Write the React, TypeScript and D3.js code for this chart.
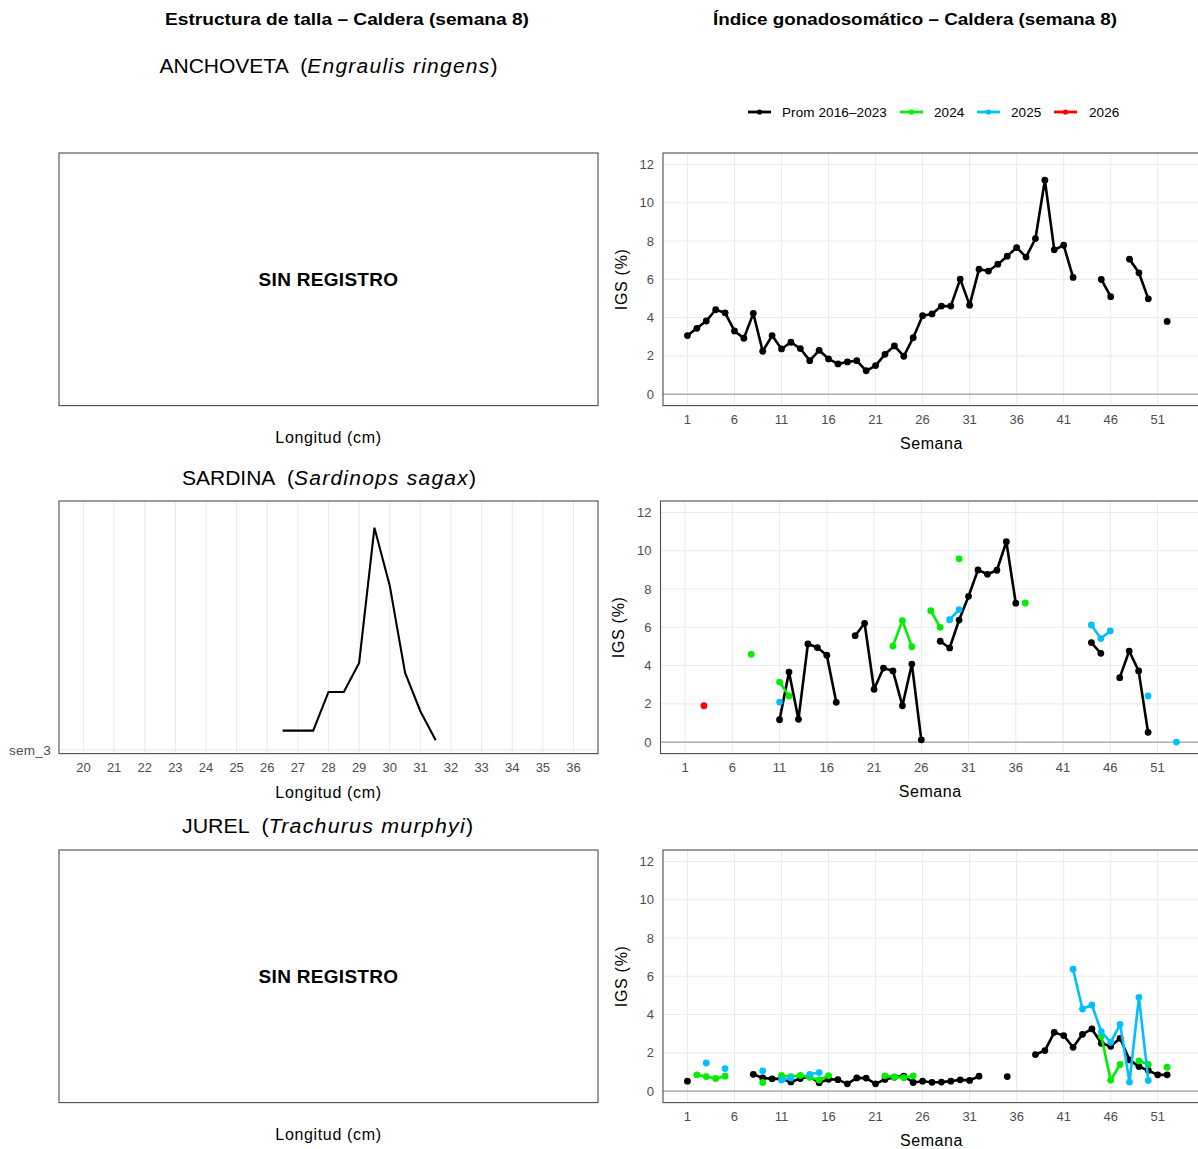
import React from 'react';
import * as d3 from 'd3';

// ---------- tick / category data ----------
const WEEK_TICKS = [1, 6, 11, 16, 21, 26, 31, 36, 41, 46, 51];
const IGS_TICKS = [0, 2, 4, 6, 8, 10, 12];
const LEN_TICKS = [20, 21, 22, 23, 24, 25, 26, 27, 28, 29, 30, 31, 32, 33, 34, 35, 36];
const SERIES_NAMES = ['Prom 2016–2023', '2024', '2025', '2026'];
const SERIES_COLORS = ['#000000', '#00ee00', '#00bfff', '#ff0000'];
const RIDGE_CATEGORY = 'sem_3';

// ---------- Anchoveta IGS ----------
const ancPromWeeks = [1, 2, 3, 4, 5, 6, 7, 8, 9, 10, 11, 12, 13, 14, 15, 16, 17, 18, 19, 20, 21, 22, 23, 24, 25, 26, 27, 28, 29, 30, 31, 32, 33, 34, 35, 36, 37, 38, 39, 40, 41, 42, 45, 46, 48, 49, 50, 52];
const ancPromVals = [3.06, 3.44, 3.82, 4.41, 4.25, 3.30, 2.92, 4.22, 2.24, 3.06, 2.36, 2.71, 2.38, 1.75, 2.29, 1.84, 1.58, 1.68, 1.75, 1.22, 1.49, 2.08, 2.52, 1.98, 2.95, 4.10, 4.19, 4.60, 4.60, 6.01, 4.65, 6.53, 6.43, 6.79, 7.21, 7.66, 7.16, 8.13, 11.18, 7.54, 7.78, 6.10, 5.99, 5.09, 7.05, 6.34, 4.98, 3.80];

// ---------- Sardina IGS ----------
const sarPromWeeks = [11, 12, 13, 14, 15, 16, 17, 19, 20, 21, 22, 23, 24, 25, 26, 28, 29, 30, 31, 32, 33, 34, 35, 36, 44, 45, 47, 48, 49, 50];
const sarPromVals = [1.17, 3.66, 1.19, 5.13, 4.94, 4.54, 2.08, 5.56, 6.21, 2.76, 3.87, 3.72, 1.90, 4.08, 0.12, 5.27, 4.92, 6.38, 7.62, 9.00, 8.77, 8.98, 10.47, 7.26, 5.20, 4.64, 3.37, 4.76, 3.72, 0.51];
const sar2024Weeks = [8, 11, 12, 23, 24, 25, 27, 28, 30, 37];
const sar2024Vals = [4.59, 3.14, 2.41, 5.02, 6.35, 4.99, 6.87, 6.00, 9.58, 7.27];
const sar2025Weeks = [11, 29, 30, 44, 45, 46, 50, 53];
const sar2025Vals = [2.09, 6.40, 6.92, 6.12, 5.41, 5.81, 2.41, 0.0];
const sar2026Weeks = [3];
const sar2026Vals = [1.90];

// ---------- Jurel IGS ----------
const jurPromWeeks = [1, 8, 9, 10, 11, 12, 13, 14, 15, 16, 17, 18, 19, 20, 21, 22, 23, 24, 25, 26, 27, 28, 29, 30, 31, 32, 35, 38, 39, 40, 41, 42, 43, 44, 45, 46, 47, 48, 49, 50, 51, 52];
const jurPromVals = [0.52, 0.88, 0.69, 0.64, 0.64, 0.48, 0.66, 0.76, 0.44, 0.62, 0.60, 0.38, 0.69, 0.68, 0.38, 0.61, 0.73, 0.78, 0.45, 0.52, 0.46, 0.47, 0.52, 0.59, 0.56, 0.78, 0.76, 1.91, 2.12, 3.07, 2.90, 2.29, 2.97, 3.25, 2.50, 2.34, 2.76, 1.63, 1.28, 1.08, 0.85, 0.85];
const jur2024Weeks = [2, 3, 4, 5, 9, 11, 12, 13, 14, 15, 16, 22, 23, 24, 25, 45, 46, 47, 49, 50, 52];
const jur2024Vals = [0.85, 0.76, 0.66, 0.78, 0.45, 0.82, 0.75, 0.82, 0.72, 0.58, 0.81, 0.80, 0.74, 0.70, 0.80, 2.87, 0.57, 1.39, 1.58, 1.39, 1.25];
const jur2025Weeks = [3, 5, 9, 11, 12, 14, 15, 42, 43, 44, 45, 46, 47, 48, 49, 50];
const jur2025Vals = [1.47, 1.18, 1.06, 0.58, 0.68, 0.88, 0.97, 6.37, 4.29, 4.50, 3.11, 2.55, 3.49, 0.47, 4.90, 0.56];

// ---------- Sardina length structure (sem_3) ----------
const sarLengths = [26.5, 27, 27.5, 28, 28.5, 29, 29.5, 30, 30.5, 31, 31.5];
const sarCounts = [2, 2, 2, 6, 6, 9, 23, 17, 8, 4, 1];

const FONT = '"Liberation Sans", Arial, Helvetica, sans-serif';
const TICK_FS = 13;
const TICK_COL = '#4d4d4d';

type Series = { weeks: number[]; vals: number[]; color: string };

function toFull(weeks: number[], vals: number[]): [number, number | null][] {
  const m = new Map<number, number>();
  weeks.forEach((w, i) => m.set(w, vals[i]));
  return d3.range(1, 54).map((w) => [w, m.has(w) ? (m.get(w) as number) : null]);
}

const PANEL_H = 252.6;

function IgsPanel({ top, left, series }: { top: number; left: number; series: Series[] }) {
  const bottom = top + PANEL_H;
  const right = 1201;
  const x = d3.scaleLinear().domain([-1.6, 55.6]).range([left, right]);
  const y = d3.scaleLinear().domain([-0.6, 12.6]).range([bottom, top]);
  const line = d3
    .line<[number, number | null]>()
    .defined((d) => d[1] != null)
    .x((d) => x(d[0]))
    .y((d) => y(d[1] as number));
  return (
    <g>
      {IGS_TICKS.map((t) => (
        <line key={'gy' + t} x1={left} x2={right} y1={y(t)} y2={y(t)} stroke="#ebebeb" strokeWidth={1.1} />
      ))}
      {WEEK_TICKS.map((t) => (
        <line key={'gx' + t} x1={x(t)} x2={x(t)} y1={top} y2={bottom} stroke="#ebebeb" strokeWidth={1.1} />
      ))}
      <line x1={left} x2={right} y1={y(0)} y2={y(0)} stroke="#a3a3a3" strokeWidth={1.3} />
      {series.map((s, i) => {
        const full = toFull(s.weeks, s.vals);
        return (
          <g key={'s' + i}>
            <path d={line(full) || ''} fill="none" stroke={s.color} strokeWidth={2.6} strokeLinejoin="round" />
            {s.weeks.map((w, j) => (
              <circle key={j} cx={x(w)} cy={y(s.vals[j])} r={3.4} fill={s.color} />
            ))}
          </g>
        );
      })}
      <rect x={left} y={top} width={right - left} height={bottom - top} fill="none" stroke="#4d4d4d" strokeWidth={1.1} />
      {IGS_TICKS.map((t) => (
        <text key={'ty' + t} x={left - 9} y={y(t)} dy="0.35em" textAnchor="end" fontSize={TICK_FS} fill={TICK_COL} fontFamily={FONT}>
          {t}
        </text>
      ))}
      {WEEK_TICKS.map((t) => (
        <text key={'tx' + t} x={x(t)} y={bottom + 14} dy="0.35em" textAnchor="middle" fontSize={TICK_FS} fill={TICK_COL} fontFamily={FONT}>
          {t}
        </text>
      ))}
      <text x={(left + 1198) / 2 + 1} y={bottom + 38} dy="0.35em" textAnchor="middle" fontSize={16} letterSpacing={0.6} fill="#000" fontFamily={FONT}>
        Semana
      </text>
      <text
        transform={`translate(${left - 42},${(top + bottom) / 2}) rotate(-90)`}
        dy="0.35em"
        textAnchor="middle"
        fontSize={16}
        letterSpacing={0.7}
        fill="#000"
        fontFamily={FONT}
      >
        IGS (%)
      </text>
    </g>
  );
}

const L_LEFT = 59;
const L_RIGHT = 598;

function EmptyLengthPanel({ top }: { top: number }) {
  const bottom = top + PANEL_H;
  return (
    <g>
      <rect x={L_LEFT} y={top} width={L_RIGHT - L_LEFT} height={bottom - top} fill="none" stroke="#4d4d4d" strokeWidth={1.1} />
      <text x={(L_LEFT + L_RIGHT) / 2} y={(top + bottom) / 2} dy="0.35em" textAnchor="middle" fontSize={19} letterSpacing={0.3} fontWeight="bold" fontFamily={FONT}>
        SIN REGISTRO
      </text>
      <text x={(L_LEFT + L_RIGHT) / 2} y={bottom + 32} dy="0.35em" textAnchor="middle" fontSize={16} letterSpacing={0.65} fontFamily={FONT}>
        Longitud (cm)
      </text>
    </g>
  );
}

function RidgePanel({ top }: { top: number }) {
  const bottom = top + PANEL_H;
  const x = d3.scaleLinear().domain([19.2, 36.8]).range([L_LEFT, L_RIGHT]);
  const cat = d3.scalePoint<string>().domain([RIDGE_CATEGORY]).range([bottom - 3.7, bottom - 3.7]);
  const base = cat(RIDGE_CATEGORY) as number;
  const h = d3.scaleLinear().domain([0, d3.max(sarCounts) as number]).range([base, top + 26.7]);
  const pts: [number, number][] = sarLengths.map((l, i) => [l, sarCounts[i]]);
  const line = d3
    .line<[number, number]>()
    .x((d) => x(d[0]))
    .y((d) => h(d[1]));
  return (
    <g>
      {LEN_TICKS.map((t) => (
        <line key={'g' + t} x1={x(t)} x2={x(t)} y1={top} y2={bottom} stroke="#ebebeb" strokeWidth={1.1} />
      ))}
      <line x1={L_LEFT} x2={L_RIGHT} y1={base} y2={base} stroke="#ebebeb" strokeWidth={1.1} />
      <path d={line(pts) || ''} fill="none" stroke="#000" strokeWidth={2.1} strokeLinejoin="miter" />
      <rect x={L_LEFT} y={top} width={L_RIGHT - L_LEFT} height={bottom - top} fill="none" stroke="#4d4d4d" strokeWidth={1.1} />
      <text x={L_LEFT - 8} y={base} dy="0.35em" textAnchor="end" fontSize={13.5} letterSpacing={0.3} fill={TICK_COL} fontFamily={FONT}>
        {RIDGE_CATEGORY}
      </text>
      {LEN_TICKS.map((t) => (
        <text key={'t' + t} x={x(t)} y={bottom + 14} dy="0.35em" textAnchor="middle" fontSize={TICK_FS} fill={TICK_COL} fontFamily={FONT}>
          {t}
        </text>
      ))}
      <text x={(L_LEFT + L_RIGHT) / 2} y={bottom + 38.5} dy="0.35em" textAnchor="middle" fontSize={16} letterSpacing={0.65} fontFamily={FONT}>
        Longitud (cm)
      </text>
    </g>
  );
}

function SpeciesTitle({ y, cx, width, common, sci }: { y: number; cx: number; width: number; common: string; sci: string }) {
  return (
    <text x={cx - width / 2} y={y} dy="0.35em" fontSize={20.5} fontFamily={FONT} textLength={width} lengthAdjust="spacingAndGlyphs">
      {common}
      {'\u00a0\u00a0('}
      <tspan fontStyle="italic" letterSpacing={1.2}>
        {sci}
      </tspan>
      {')'}
    </text>
  );
}

function Legend() {
  const items = [
    { x0: 748, tx: 782 },
    { x0: 900, tx: 934 },
    { x0: 977, tx: 1011 },
    { x0: 1054, tx: 1089 },
  ];
  const y = 112;
  return (
    <g>
      {SERIES_NAMES.map((n, i) => (
        <g key={n}>
          <line x1={items[i].x0} x2={items[i].x0 + 23} y1={y} y2={y} stroke={SERIES_COLORS[i]} strokeWidth={2.8} />
          <circle cx={items[i].x0 + 11.5} cy={y} r={2.6} fill={SERIES_COLORS[i]} />
          <text x={items[i].tx} y={y} dy="0.35em" fontSize={13.5} letterSpacing={0.1} fontFamily={FONT} fill="#000">
            {n}
          </text>
        </g>
      ))}
    </g>
  );
}

export default function App() {
  const c = SERIES_COLORS;
  const anc: Series[] = [{ weeks: ancPromWeeks, vals: ancPromVals, color: c[0] }];
  const sar: Series[] = [
    { weeks: sarPromWeeks, vals: sarPromVals, color: c[0] },
    { weeks: sar2024Weeks, vals: sar2024Vals, color: c[1] },
    { weeks: sar2025Weeks, vals: sar2025Vals, color: c[2] },
    { weeks: sar2026Weeks, vals: sar2026Vals, color: c[3] },
  ];
  const jur: Series[] = [
    { weeks: jurPromWeeks, vals: jurPromVals, color: c[0] },
    { weeks: jur2024Weeks, vals: jur2024Vals, color: c[1] },
    { weeks: jur2025Weeks, vals: jur2025Vals, color: c[2] },
  ];
  return (
    <svg width={1198} height={1149} style={{ position: 'absolute', left: 0, top: 0, background: '#fff' }} fontFamily={FONT}>
      <rect x={0} y={0} width={1198} height={1149} fill="#fff" />
      <text x={165} y={19} dy="0.35em" fontSize={17} fontWeight="bold" fontFamily={FONT} textLength={364} lengthAdjust="spacingAndGlyphs">
        Estructura de talla – Caldera (semana 8)
      </text>
      <text x={713} y={19} dy="0.35em" fontSize={17} fontWeight="bold" fontFamily={FONT} textLength={404} lengthAdjust="spacingAndGlyphs">
        Índice gonadosomático – Caldera (semana 8)
      </text>
      <SpeciesTitle y={66} cx={328.5} width={338} common="ANCHOVETA" sci="Engraulis ringens" />
      <SpeciesTitle y={478} cx={329} width={294} common="SARDINA" sci="Sardinops sagax" />
      <SpeciesTitle y={826} cx={327.5} width={291} common="JUREL" sci="Trachurus murphyi" />
      <Legend />
      <EmptyLengthPanel top={153} />
      <RidgePanel top={501} />
      <EmptyLengthPanel top={850} />
      <IgsPanel top={153} left={663} series={anc} />
      <IgsPanel top={501} left={660.5} series={sar} />
      <IgsPanel top={850} left={663} series={jur} />
    </svg>
  );
}
